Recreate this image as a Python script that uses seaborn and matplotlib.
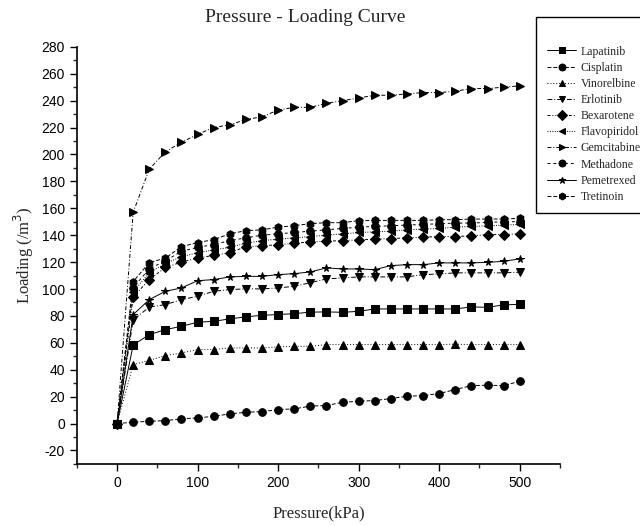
import matplotlib
matplotlib.use("Agg")
import matplotlib.pyplot as plt
import pandas as pd
import seaborn as sns
from matplotlib.ticker import MultipleLocator

pressure = list(range(0, 501, 20))

drugs = ["Lapatinib", "Cisplatin", "Vinorelbine", "Erlotinib", "Bexarotene",
         "Flavopiridol", "Gemcitabine", "Methadone", "Pemetrexed", "Tretinoin"]

lapatinib = [0, 58.4, 66.1, 69.8, 72.3, 75.3, 76.0, 77.8, 79.3, 80.5, 81.0, 81.7, 82.8,
             83.0, 82.7, 83.4, 85.2, 85.2, 85.2, 85.2, 85.2, 85.2, 86.7, 86.4, 88.2, 88.6]
cisplatin = [0, 1.0, 1.7, 2.2, 3.5, 4.2, 5.4, 7.2, 8.4, 8.9, 10.4, 10.9, 13.0,
             13.4, 15.8, 16.6, 17.1, 18.6, 20.3, 20.8, 22.3, 25.3, 28.2, 28.5, 28.2, 31.4]
vinorelbine = [0, 43.8, 47.0, 50.5, 52.5, 55.0, 55.0, 56.2, 56.2, 56.2, 57.0, 57.4, 57.4,
               58.7, 58.7, 58.7, 58.7, 58.7, 58.7, 58.7, 58.7, 59.0, 58.7, 58.7, 58.7, 58.7]
erlotinib = [0, 77.0, 86.6, 88.4, 92.1, 94.6, 98.3, 99.6, 100.1, 100.1, 100.8, 102.0, 104.7,
             107.5, 108.2, 109.0, 109.0, 109.0, 109.0, 110.7, 111.2, 112.0, 112.0, 112.0, 112.0, 112.5]
bexarotene = [0, 94, 107, 116, 120, 123, 125, 127, 131.5, 132, 133, 134, 135,
              135.5, 136, 136.5, 137, 137.5, 138, 138.5, 139, 139, 139.5, 140.4, 140.5, 141]
flavopiridol = [0, 98, 112, 119, 124, 127, 129, 131, 134, 136, 137, 138, 139,
                140, 141, 142, 142.5, 143, 144, 144.5, 145, 146, 146.5, 147, 147.5, 148]
gemcitabine = [0, 157, 189, 202, 209, 215, 220, 222, 226, 228, 233, 235, 235,
               238, 240, 242, 244, 244, 245, 246, 246, 247, 249, 249, 250, 251]
methadone = [0, 101, 115, 121, 128, 131, 133, 136, 138, 140, 141, 142, 143,
             144, 145, 146, 146.5, 147, 147.5, 148, 148.5, 149, 149, 149.5, 150, 150]
pemetrexed = [0, 81.0, 92.1, 98.3, 100.8, 106.2, 107.0, 109.0, 109.4, 109.4, 110.7, 111.4, 112.7,
              115.7, 114.9, 114.9, 114.4, 117.4, 118.1, 118.1, 119.4, 119.4, 119.4, 119.8, 120.6, 122.4]
tretinoin = [0, 105.5, 119.6, 123, 131.5, 134.5, 136.7, 141, 143.4, 144, 146, 147, 148.6,
             149.3, 149.3, 150.8, 151, 151, 151, 151, 151.5, 151.5, 152, 152, 152, 152.5]

series = [lapatinib, cisplatin, vinorelbine, erlotinib, bexarotene,
          flavopiridol, gemcitabine, methadone, pemetrexed, tretinoin]

df = pd.DataFrame(
    [(d, p, v) for d, vals in zip(drugs, series) for p, v in zip(pressure, vals)],
    columns=["drug", "pressure", "loading"],
)

markers = dict(zip(drugs, ["s", "o", "^", "v", "D", "<", ">", "o", "*", "h"]))
dashes = dict(zip(drugs, ["", (4, 2), (1, 2), (5, 2, 1, 2), (3, 2, 1, 2, 1, 2),
                          (1, 1.5), (4, 2, 1, 2), (3, 3), "", (4, 2)]))

sns.set_style("ticks")
plt.rcParams["font.family"] = ["Liberation Sans", "DejaVu Sans"]
plt.rcParams["axes.unicode_minus"] = False
serif = ["Liberation Serif", "DejaVu Serif"]

fig = plt.figure(figsize=(6.4, 5.26), dpi=100)
ax = fig.add_axes([0.120, 0.118, 0.755, 0.793])

sns.lineplot(
    data=df, x="pressure", y="loading", hue="drug", style="drug",
    hue_order=drugs, style_order=drugs,
    palette=["black"] * len(drugs), markers=markers, dashes=dashes,
    markersize=5.5, markeredgecolor="black", linewidth=0.7, errorbar=None, ax=ax,
)

ax.set_xlim(-50, 550)
ax.set_ylim(-30, 280)
ax.xaxis.set_major_locator(MultipleLocator(100))
ax.xaxis.set_minor_locator(MultipleLocator(50))
ax.yaxis.set_major_locator(MultipleLocator(20))
ax.yaxis.set_minor_locator(MultipleLocator(10))
ax.tick_params(which="major", length=5, width=1, labelsize=10, colors="black")
ax.tick_params(which="minor", length=3, width=1)
for side in ["top", "right"]:
    ax.spines[side].set_visible(False)
for side in ["left", "bottom"]:
    ax.spines[side].set_linewidth(1.2)
    ax.spines[side].set_color("black")

ax.set_title("Pressure - Loading Curve", family=serif, fontsize=14, pad=18, x=0.472)
ax.set_xlabel("Pressure(kPa)", family=serif, fontsize=12, labelpad=11)
ax.set_ylabel("Loading (/m$^3$)", family=serif, fontsize=12, labelpad=4)

handles, labels = ax.get_legend_handles_labels()
ax.legend(
    handles, labels, loc="upper left", bbox_to_anchor=(0.838, 0.968),
    bbox_transform=fig.transFigure, prop={"family": serif, "size": 8.5},
    title=" ", title_fontsize=10.5,
    frameon=True, fancybox=False, edgecolor="black", framealpha=1,
    handlelength=2.5, labelspacing=0.35, borderpad=0.9, handletextpad=0.35,
    borderaxespad=0, markerscale=0.9,
)

fig.savefig("out.png", dpi=100)
